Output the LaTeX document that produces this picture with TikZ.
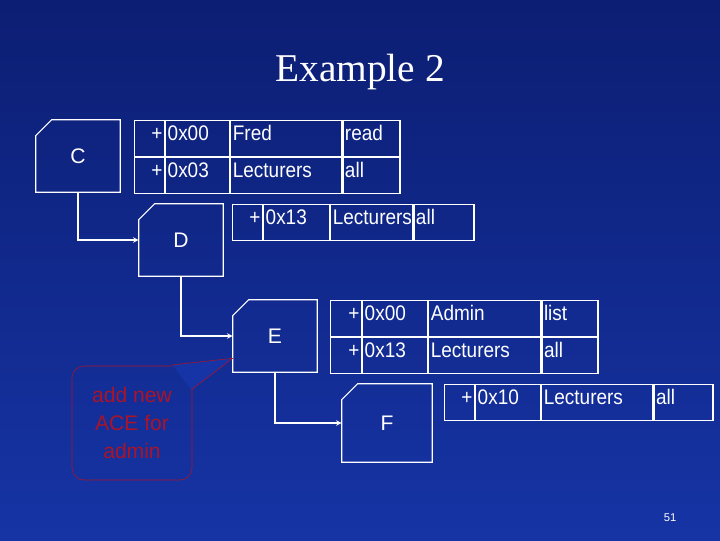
\documentclass[tikz,border=0pt]{standalone}
\usepackage{fontspec}
\setmainfont{Liberation Sans}
\newfontfamily\titlefont{Liberation Serif}
\newfontfamily\cellfont[FakeStretch=0.9]{Liberation Sans}
\usetikzlibrary{positioning,arrows}
\definecolor{bgblue}{RGB}{22,52,165}
\definecolor{bgdark}{RGB}{12,30,115}
\definecolor{notered}{RGB}{170,20,40}

\newcommand{\folder}[1]{\draw[white, thick] ([yshift=-0.4cm]#1.north west) -- ([xshift=0.4cm]#1.north west) -- (#1.north east) -- (#1.south east) -- (#1.south west) -- cycle;}

\begin{document}
\begin{tikzpicture}[
    x=0.025cm, y=-0.025cm,
    node distance=0pt,
    folder/.style={minimum width=2.1cm, minimum height=1.8cm, text=white, font=\fontsize{15}{18}\selectfont},
    cell/.style={draw=white, thick, text=white, minimum height=0.9cm, inner xsep=0.05cm, text width=#1, text height=1.3ex, text depth=0.7ex, align=left, font=\cellfont\fontsize{15}{18}\selectfont},
    sign/.style={cell=#1, align=right},
    arrow/.style={->, >=stealth, white, thick},
    note/.style={draw=notered, rounded corners=0.3cm, minimum width=3cm, minimum height=2.85cm, text=notered, align=center, font=\fontsize{15}{20}\selectfont}
]
    \shade[top color=bgdark, bottom color=bgblue] (0,0) rectangle (720,540);

    \node[text=white, font=\titlefont\fontsize{28}{32}\selectfont] (title) at (360,72) {Example 2};

    % directory boxes
    \node[folder] (c) at (78,156) {C};
    \node[folder] (d) at (181,240) {D};
    \node[folder] (e) at (275,336) {E};
    \node[folder, minimum width=2.25cm, minimum height=1.95cm] (f) at (387,423) {F};
    \folder{c}
    \folder{d}
    \folder{e}
    \folder{f}

    % ACL of C
    \node[sign=0.65cm, anchor=north west] (c1a) at (134,120) {+};
    \node[cell=1.5cm, right=of c1a] (c1b) {0x00};
    \node[cell=2.675cm, right=of c1b] (c1c) {Fred};
    \node[cell=1.325cm, right=of c1c] (c1d) {read};
    \node[sign=0.65cm, below=of c1a] (c2a) {+};
    \node[cell=1.5cm, right=of c2a] (c2b) {0x03};
    \node[cell=2.675cm, right=of c2b] (c2c) {Lecturers};
    \node[cell=1.325cm, right=of c2c] (c2d) {all};

    % ACL of D
    \node[sign=0.65cm, anchor=north west] (d1a) at (232,204) {+};
    \node[cell=1.55cm, right=of d1a] (d1b) {0x13};
    \node[cell=1.95cm, right=of d1b] (d1c) {Lecturers};
    \node[cell=1.4cm, right=of d1c] (d1d) {all};

    % ACL of E
    \node[sign=0.675cm, anchor=north west] (e1a) at (330,300) {+};
    \node[cell=1.525cm, right=of e1a] (e1b) {0x00};
    \node[cell=2.7cm, right=of e1b] (e1c) {Admin};
    \node[cell=1.3cm, right=of e1c] (e1d) {list};
    \node[sign=0.675cm, below=of e1a] (e2a) {+};
    \node[cell=1.525cm, right=of e2a] (e2b) {0x13};
    \node[cell=2.7cm, right=of e2b] (e2c) {Lecturers};
    \node[cell=1.3cm, right=of e2c] (e2d) {all};

    % ACL of F
    \node[sign=0.65cm, anchor=north west] (f1a) at (444,384) {+};
    \node[cell=1.525cm, right=of f1a] (f1b) {0x10};
    \node[cell=2.675cm, right=of f1b] (f1c) {Lecturers};
    \node[cell=1.375cm, right=of f1c] (f1d) {all};

    \draw[arrow] (c.south) |- (d.west);
    \draw[arrow] (d.south) |- (e.west);
    \draw[arrow] (e.south) |- (f.west);

    % callout
    \node[note] (remark) at (132,423) {add new\\ACE for\\admin};
    \filldraw[draw=notered, fill=bgblue] ([xshift=-0.5cm, yshift=0.02cm]remark.north east) -- ([yshift=0.35cm]e.south west) -- ([xshift=-0.02cm, yshift=-0.6cm]remark.north east);

    \node[text=white, font=\fontsize{8}{10}\selectfont] (page) at (670,518) {51};
\end{tikzpicture}
\end{document}
